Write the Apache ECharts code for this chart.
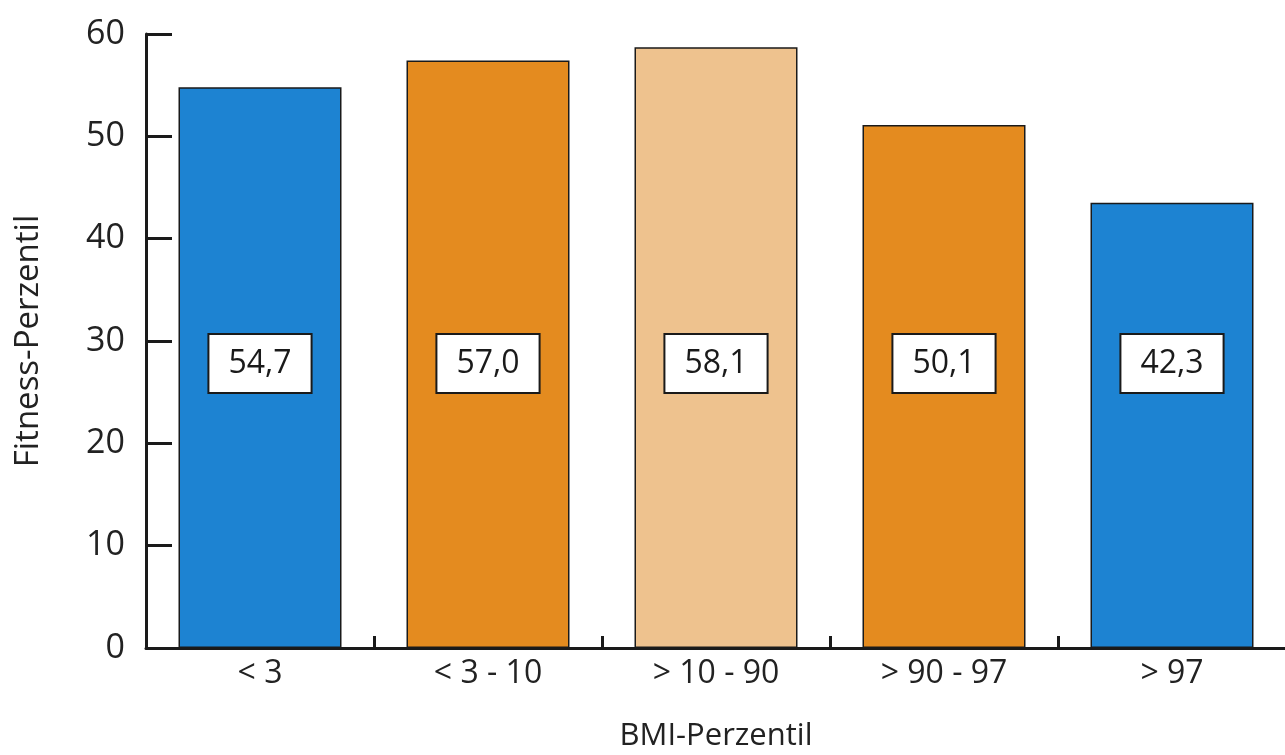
<!DOCTYPE html>
<html>
<head>
<meta charset="utf-8">
<script src="https://cdn.jsdelivr.net/npm/echarts@6/dist/echarts.min.js"></script>
<style>
html,body{margin:0;padding:0;background:#fff;}
#chart{width:1285px;height:755px;}
</style>
</head>
<body>
<div id="chart"></div>
<script>
const categories = ["< 3", "< 3 - 10", "> 10 - 90", "> 90 - 97", "> 97"];
const barHeights = [54.8, 57.4, 58.7, 51.1, 43.5];
const labelTexts = ["54,7", "57,0", "58,1", "50,1", "42,3"];
const barColors = ["#1d83d2", "#e48b1f", "#eec28e", "#e48b1f", "#1d83d2"];
const yTicks = [0, 10, 20, 30, 40, 50, 60];

const FONT = "'Open Sans', 'Noto Sans', sans-serif";
const chart = echarts.init(document.getElementById('chart'), null, {renderer: 'canvas'});

const option = {
  backgroundColor: '#ffffff',
  animation: false,
  grid: {left: 146, top: 34, width: 1140, bottom: 107, containLabel: false, outerBoundsMode: 'none'},
  xAxis: {
    type: 'category',
    data: categories,
    boundaryGap: true,
    name: 'BMI-Perzentil',
    nameLocation: 'middle',
    nameGap: 73,
    nameTextStyle: {fontFamily: FONT, fontSize: 31, color: '#222'},
    axisLine: {show: true, lineStyle: {color: '#1a1a1a', width: 3}},
    axisTick: {show: true, inside: true, length: 12, lineStyle: {color: '#1a1a1a', width: 3}},
    axisLabel: {fontFamily: FONT, fontSize: 32, color: '#222', margin: 10},
    splitLine: {show: false}
  },
  yAxis: {
    type: 'value',
    min: yTicks[0],
    max: yTicks[yTicks.length - 1],
    interval: 10,
    name: 'Fitness-Perzentil',
    nameLocation: 'middle',
    nameGap: 101,
    nameRotate: 90,
    nameTextStyle: {fontFamily: FONT, fontSize: 33, color: '#222'},
    axisLine: {show: true, lineStyle: {color: '#1a1a1a', width: 3}},
    axisTick: {show: true, inside: true, length: 26, lineStyle: {color: '#1a1a1a', width: 3}},
    axisLabel: {fontFamily: FONT, fontSize: 34, color: '#222', margin: 21},
    splitLine: {show: false}
  },
  series: [{
    type: 'bar',
    barWidth: 163,
    data: barHeights.map((v, i) => ({
      value: v,
      itemStyle: {color: barColors[i], borderColor: '#1a1a1a', borderWidth: 1.5},
      label: {formatter: labelTexts[i]}
    })),
    label: {
      show: true,
      position: 'insideBottom',
      distance: 256,
      fontFamily: FONT,
      fontSize: 32,
      lineHeight: 36,
      color: '#1a1a1a',
      backgroundColor: '#ffffff',
      borderColor: '#1a1a1a',
      borderWidth: 2,
      padding: [11, 19, 10, 19]
    }
  }]
};
chart.setOption(option);
</script>
</body>
</html>
